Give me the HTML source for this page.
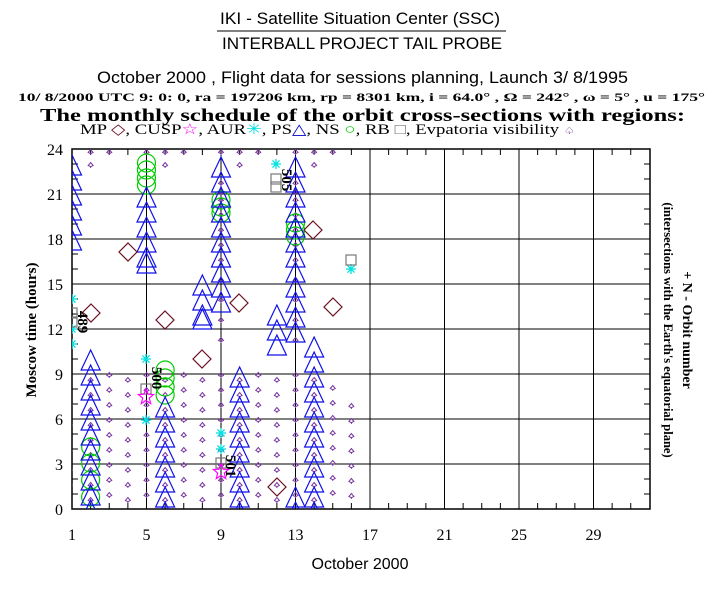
<!DOCTYPE html>
<html><head><meta charset="utf-8"><style>
html,body{margin:0;padding:0;background:#fff;width:720px;height:600px;overflow:hidden}
svg{display:block}
.s{font-family:"Liberation Sans",sans-serif}
.r{font-family:"Liberation Serif",serif;font-weight:bold}
.n{font-family:"Liberation Serif",serif;font-weight:normal}
.m{font-family:"Liberation Mono",monospace;font-weight:bold}
</style></head><body>
<svg id="c" width="720" height="600" viewBox="0 0 720 600" xmlns="http://www.w3.org/2000/svg">
<text class="s" x="220" y="24" font-size="17" textLength="280" lengthAdjust="spacingAndGlyphs">IKI - Satellite Situation Center (SSC)</text>
<line x1="217" y1="31" x2="506" y2="31" stroke="#000" stroke-width="1"/>
<text class="s" x="222" y="49" font-size="17" textLength="280" lengthAdjust="spacingAndGlyphs">INTERBALL PROJECT TAIL PROBE</text>
<text class="s" x="97" y="83" font-size="17" textLength="531" lengthAdjust="spacingAndGlyphs">October  2000 ,  Flight data for sessions planning,   Launch  3/ 8/1995</text>
<text class="r" x="18" y="101" font-size="12" textLength="687" lengthAdjust="spacingAndGlyphs">10/ 8/2000 UTC  9: 0: 0, ra = 197206 km, rp =    8301 km, i = 64.0° , Ω = 242° , ω =    5° , u = 175°</text>
<text class="m" x="40" y="121" font-size="18" textLength="645" lengthAdjust="spacingAndGlyphs" style="font-family:'Liberation Serif',serif">The monthly schedule of the orbit cross-sections with regions:</text>
<text class="n" x="80" y="134" font-size="15" textLength="495" lengthAdjust="spacingAndGlyphs">MP <tspan fill="#6b1020">◇</tspan>, CUSP<tspan fill="#f0f">☆</tspan>, AUR<tspan fill="#00e0e0">✳</tspan>, PS<tspan fill="#00c">△</tspan>, NS <tspan fill="#0c0">○</tspan>, RB <tspan fill="#777">□</tspan>, Evpatoria visibility <tspan fill="#6a2a8a" font-size="10">♤</tspan></text>
<g id="grid"></g>
<g id="data"></g>
<text class="r" font-size="15" transform="translate(36,330) rotate(-90)" text-anchor="middle">Moscow time (hours)</text>
<text class="r" font-size="14" transform="translate(683,330) rotate(90)" text-anchor="middle">+ N - Orbit number</text>
<text class="r" font-size="12.5" transform="translate(664,330) rotate(90)" text-anchor="middle">(intersections with the Earth's equatorial plane)</text>
<text class="s" x="360" y="569" font-size="16" text-anchor="middle">October 2000</text>
</svg>
<script>
var NS="http://www.w3.org/2000/svg";
function el(p,t,a,txt){var e=document.createElementNS(NS,t);for(var k in a)e.setAttribute(k,a[k]);if(txt!==undefined)e.textContent=txt;p.appendChild(e);return e;}
var L=72,R=650,T=149,B=509;
function X(d){return L+(d-1)*18.625;}
function Y(h){return B-15*h;}
var g=document.getElementById('grid'),dg=document.getElementById('data');
var defs=el(document.getElementById('c'),'defs',{});
var cp=el(defs,'clipPath',{id:'cp'});el(cp,'rect',{x:L,y:T,width:R-L,height:B-T});
dg.setAttribute('clip-path','url(#cp)');
[5,9,13,17,21,25,29].forEach(function(d){el(g,'line',{x1:X(d),y1:T,x2:X(d),y2:B,stroke:'#000','stroke-width':1});});
[3,6,9,12,15,18,21].forEach(function(h){el(g,'line',{x1:L,y1:Y(h),x2:R,y2:Y(h),stroke:'#000','stroke-width':1});});
el(g,'rect',{x:L,y:T,width:R-L,height:B-T,fill:'none',stroke:'#000','stroke-width':1.5});
for(var h=1;h<24;h++){el(g,'line',{x1:L,y1:Y(h),x2:L+6,y2:Y(h),stroke:'#000'});el(g,'line',{x1:R,y1:Y(h),x2:R-6,y2:Y(h),stroke:'#000'});}
for(var d=2;d<32;d++){el(g,'line',{x1:X(d),y1:B,x2:X(d),y2:B-6,stroke:'#000'});el(g,'line',{x1:X(d),y1:T,x2:X(d),y2:T+6,stroke:'#000'});}
for(var h=0;h<=24;h+=3)el(g,'text',{x:63,y:Y(h)+6,'font-size':16,'text-anchor':'end','class':'n'},''+h);
[1,5,9,13,17,21,25,29].forEach(function(d){el(g,'text',{x:X(d),y:540,'font-size':16,'text-anchor':'middle','class':'n'},''+d);});
function sp(x,y){el(dg,'path',{d:'M'+x+' '+(y-2.5)+'l2.5 3l-2.5 1.2l-2.5-1.2z M'+x+' '+(y+1)+'v2',fill:'none',stroke:'#7a3aa0','stroke-width':1});}
[2,3,5,6,7,9,10,11,13,14,15].forEach(function(d){sp(X(d),152);});
[2,6,10,14].forEach(function(d){sp(X(d),165);});
for(var d=2;d<=16;d++){var start=(d==15?388:(d==16?406:(d%2?375:380)));for(var y=start;y<507;y+=15)sp(X(d),y);}
[155,170,185,405,425,450,470,485].forEach(function(y){sp(X(1)-2,y);});
[183,192,200,215,230,245,260,280,300,320,340].forEach(function(y){sp(X(13),y);sp(X(9),y);});
function ci(x,y){el(dg,'circle',{cx:x,cy:y,r:9,fill:'none',stroke:'#00cc00','stroke-width':1.2});}
[447,463,480,497].forEach(function(y){ci(X(2),y);});
[163,170,178,185].forEach(function(y){ci(X(5),y);});
[370,378,387,395].forEach(function(y){ci(X(6),y);});
[200,207,213].forEach(function(y){ci(X(9),y);});
[223,230,236].forEach(function(y){ci(X(13),y);});
function tr(x,y){el(dg,'path',{d:'M'+x+' '+y+'l9.5 20h-19z',fill:'none',stroke:'#1010e8','stroke-width':1.2});}
function stack(d,a,b){for(var y=a;y<=b;y+=15)tr(X(d),y);}
stack(1,155,230);stack(2,350,505);stack(5,187,247);tr(X(5),253);stack(6,397,505);
stack(8,275,305);tr(X(8),309);stack(9,157,292);stack(10,367,505);stack(12,305,335);
stack(13,157,322);tr(X(13),487);tr(X(13),502);stack(14,337,505);
[[91,313],[128,252],[165,320],[202,359],[239,303],[277,487],[313,230],[333,307]].forEach(function(p){el(dg,'path',{d:'M'+p[0]+' '+(p[1]-9)+'l9 9l-9 9l-9-9z',fill:'none',stroke:'#6b1020','stroke-width':1.2});});
function ast(x,y){for(var i=0;i<4;i++){var a=i*Math.PI/4;el(dg,'line',{x1:x-5*Math.cos(a),y1:y-5*Math.sin(a),x2:x+5*Math.cos(a),y2:y+5*Math.sin(a),stroke:'#00e0e0','stroke-width':1.3});}}
[[72,299],[72,329],[72,344],[146,359],[146,420],[221,433],[221,449],[276,164],[351,269]].forEach(function(p){ast(p[0],p[1]);});
[[72,313],[72,322],[146,389],[221,463],[276,179],[276,187],[351,260]].forEach(function(p){el(dg,'rect',{x:p[0]-5,y:p[1]-5,width:10,height:10,fill:'none',stroke:'#777','stroke-width':1.2});});
function star(x,y){var s='';for(var i=0;i<10;i++){var r=i%2?3.5:8,a=-Math.PI/2+i*Math.PI/5;s+=(i?'L':'M')+(x+r*Math.cos(a)).toFixed(1)+' '+(y+r*Math.sin(a)).toFixed(1);}el(dg,'path',{d:s+'z',fill:'none',stroke:'#f0f','stroke-width':1.2});}
star(146,397);star(221,472);
[[78,322,'489'],[152,378,'500'],[226,466,'501'],[282,180,'505']].forEach(function(p){el(document.getElementById('c'),'text',{'class':'r','font-size':15,transform:'translate('+p[0]+','+p[1]+') rotate(90)','text-anchor':'middle'},p[2]);});
</script>
</body></html>
